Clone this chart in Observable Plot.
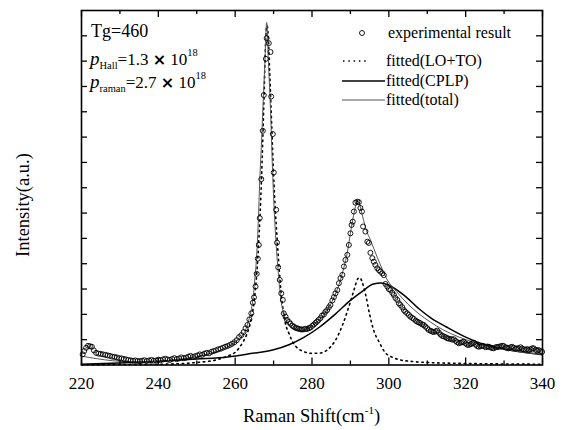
<!DOCTYPE html>
<html>
<head>
<meta charset="utf-8">
<script src="https://cdn.jsdelivr.net/npm/d3@7"></script>
<script src="https://cdn.jsdelivr.net/npm/@observablehq/plot@0.6"></script>
<style>
  html, body { margin: 0; padding: 0; background: #fff; }
  #chart svg { display: block; }
</style>
</head>
<body>
<div id="chart"></div>
<script>
// ---- experimental points (Raman shift cm^-1, intensity a.u.) ----
const expX = [
220.3,220.7,221.2,221.7,222.2,222.7,223.2,223.8,224.4,225.0,225.6,226.2,226.8,227.4,228.0,228.6,229.2,229.8,
230.4,231.0,231.6,232.2,232.8,233.4,234.0,234.6,235.2,235.8,236.4,237.0,237.6,238.2,238.8,239.4,240.0,240.6,
241.2,241.8,242.4,243.0,243.6,244.2,244.8,245.4,246.0,246.6,247.2,247.8,248.4,249.0,249.6,250.2,250.8,251.4,
252.0,252.6,253.2,253.8,254.4,255.0,255.6,256.2,256.8,257.4,258.0,258.6,259.2,259.8,260.4,261.0,261.6,262.2,
262.7,263.2,263.7,264.2,264.6,264.9,265.3,265.6,265.9,266.15,266.4,266.8,267.2,267.45,268.0,268.2,268.75,269.2,
269.37,269.8,270.05,270.67,270.9,271.2,271.6,272.0,272.4,272.65,273.1,273.5,274.0,274.4,274.9,275.3,275.7,276.1,
276.5,277.0,277.4,277.9,278.3,278.75,279.2,279.6,280.1,280.5,280.9,281.3,281.7,282.2,282.6,283.1,283.5,283.95,
284.4,284.8,285.3,285.7,286.1,286.6,287.0,287.4,287.9,288.3,288.7,289.2,289.6,290.0,290.3,290.6,290.9,291.3,
291.8,292.2,292.6,293.0,293.3,293.9,294.4,294.8,295.2,295.7,296.1,296.5,297.0,297.4,297.8,298.3,298.7,299.1,
299.6,300.0,300.4,300.9,301.3,301.7,302.2,302.6,303.0,303.5,303.9,304.3,304.8,305.2,305.6,306.1,306.5,307.0,
307.4,307.8,308.2,308.7,309.1,309.5,310.0,310.4,310.9,311.3,311.7,312.2,312.6,313.0,313.5,313.9,314.3,314.8,
315.2,315.6,316.1,316.5,316.9,317.4,317.8,318.2,318.7,319.1,319.5,320.0,320.4,320.8,321.3,321.7,322.1,322.6,
323.0,323.4,323.9,324.3,324.7,325.2,325.6,326.0,326.5,326.9,327.3,327.8,328.2,328.6,329.1,329.5,329.9,330.4,
330.8,331.2,331.7,332.1,332.5,333.0,333.4,333.8,334.3,334.7,335.1,335.6,336.0,336.4,336.9,337.3,337.7,338.2,
338.6,339.0,339.5,339.9
];
const expY = [
0.42,0.55,0.68,0.76,0.74,0.72,0.58,0.48,0.45,0.44,0.42,0.40,0.38,0.36,0.33,0.32,0.30,0.27,
0.26,0.24,0.22,0.20,0.18,0.17,0.18,0.16,0.15,0.17,0.19,0.16,0.18,0.20,0.17,0.18,0.21,0.19,
0.22,0.25,0.22,0.20,0.24,0.27,0.23,0.26,0.30,0.27,0.29,0.33,0.36,0.32,0.35,0.38,0.42,0.40,
0.45,0.48,0.46,0.52,0.55,0.58,0.62,0.64,0.68,0.72,0.75,0.79,0.84,0.90,0.98,1.10,1.18,1.30,
1.45,1.58,1.80,2.04,2.46,2.67,3.10,3.60,4.20,4.74,5.80,7.34,9.25,10.66,12.09,12.91,12.71,12.36,
10.60,9.12,7.60,6.13,4.83,3.86,3.36,2.83,2.57,2.04,1.91,1.78,1.70,1.63,1.55,1.51,1.47,1.45,
1.43,1.41,1.40,1.41,1.43,1.42,1.46,1.48,1.55,1.60,1.66,1.71,1.78,1.85,1.95,2.00,2.10,2.17,
2.28,2.37,2.55,2.68,2.83,2.96,3.23,3.43,3.56,3.89,4.15,4.35,4.74,5.20,5.53,5.66,6.06,6.41,
6.45,6.43,6.20,6.06,5.47,5.27,4.87,4.82,4.43,4.22,4.08,3.95,3.82,3.75,3.69,3.62,3.55,3.20,
3.10,3.00,2.96,2.85,2.77,2.65,2.57,2.44,2.37,2.28,2.17,2.10,2.04,1.98,1.91,1.86,1.82,1.75,
1.71,1.68,1.65,1.60,1.58,1.52,1.45,1.38,1.35,1.32,1.30,1.33,1.36,1.28,1.20,1.15,1.13,1.10,
1.06,1.04,1.03,1.00,1.02,0.95,0.90,0.86,0.88,0.90,0.92,0.85,0.80,0.79,0.82,0.86,0.88,0.80,
0.75,0.72,0.74,0.76,0.75,0.70,0.73,0.72,0.69,0.67,0.66,0.70,0.71,0.72,0.74,0.76,0.75,0.70,
0.68,0.66,0.70,0.72,0.68,0.64,0.66,0.66,0.70,0.65,0.62,0.60,0.63,0.59,0.62,0.66,0.66,0.60,
0.57,0.59,0.55,0.52
];

// ---- fitted (LO+TO) ----
const ltX = [220,230,240,250,255,258,260,262,263,264,265,266,267,267.5,268,268.3,268.6,269,269.5,270,271,272,273,274,275,276,278,280,282,284,286,288,290,291,292,292.5,293,294,295,296,297.5,299,301,303,306,310,320,330,340];
const ltY = [0.01,0.02,0.03,0.1,0.2,0.35,0.5,0.9,1.2,1.7,2.6,4.5,8.0,10.5,13.0,13.4,13.0,11.5,9.5,7.5,4.8,2.8,1.7,1.25,0.9,0.7,0.52,0.46,0.47,0.6,0.95,1.6,2.5,3.0,3.42,3.45,3.3,2.75,2.0,1.4,0.9,0.5,0.3,0.2,0.14,0.1,0.06,0.04,0.03];

// ---- fitted (CPLP) ----
const cpX = [220,230,240,250,258,264,270,274,278,282,286,290,293,296,298,300,304,308,311,315,320,324,330,335,340];
const cpY = [0.03,0.08,0.15,0.24,0.32,0.45,0.6,0.8,1.1,1.5,2.0,2.55,2.9,3.2,3.24,3.15,2.75,2.2,1.85,1.5,1.1,0.85,0.62,0.5,0.4];

// ---- fitted (total) ----
const totX = [220,224,228,232,236,240,244,248,252,255,258,260,261,262,262.7,263.4,264,264.7,265.1,265.5,265.8,266.1,266.4,266.8,267.2,267.7,268.2,268.7,269.2,269.8,270.2,270.7,271.4,271.8,272.65,273.7,275.7,277.2,278.5,280,281.5,283,284.5,285.5,286.5,287.4,288.3,289.2,290,290.8,291.5,291.9,292.4,293.2,294.2,295.2,297,299.6,302,305,308,310.8,314,318,322,326,330,335,340];
const totY = [0.35,0.25,0.17,0.13,0.12,0.15,0.2,0.28,0.4,0.52,0.72,0.9,1.02,1.18,1.38,1.7,2.04,2.7,3.36,4.1,4.9,6.0,7.3,8.6,10.08,11.8,13.53,11.8,10.08,7.4,6.0,4.68,3.36,2.7,2.04,1.65,1.4,1.36,1.42,1.55,1.72,1.98,2.3,2.6,2.95,3.36,3.85,4.45,5.2,5.9,6.35,6.49,6.35,5.85,5.3,4.94,4.25,3.36,2.9,2.4,2.0,1.7,1.4,1.12,0.9,0.74,0.62,0.5,0.42];

// ---- axis ticks ----
const xMajor = [220,240,260,280,300,320,340];
const xMinor = [230,250,270,290,310,330];
const yTicks = [1,2,3,4,5,6,7,8,9,10,11,12,13];

const legendItems = ["experimental result","fitted(LO+TO)","fitted(CPLP)","fitted(total)"];

const exp = expX.map((x,i)=>({x, y: expY[i]}));
const lt = ltX.map((x,i)=>({x, y: ltY[i]}));
const cp = cpX.map((x,i)=>({x, y: cpY[i]}));
const tot = totX.map((x,i)=>({x, y: totY[i]}));

const FONT = "'Liberation Serif', 'DejaVu Serif', serif";
const W = 564, H = 430, ML = 81, MR = 22, MT = 10, MB = 65.5;
const FW = W - ML - MR, FH = H - MT - MB;

const plot = Plot.plot({
  width: W,
  height: H,
  marginLeft: ML,
  marginRight: MR,
  marginTop: MT,
  marginBottom: MB,
  style: {fontFamily: FONT, fontSize: "17px", color: "#000", background: "#fff"},
  x: {domain: [220, 340]},
  y: {domain: [0, 14], axis: null},
  marks: [
    Plot.line(lt, {x: "x", y: "y", curve: "monotone-x", stroke: "#000", strokeWidth: 1.6, strokeDasharray: "1.5,3.8"}),
    Plot.line(cp, {x: "x", y: "y", curve: "monotone-x", stroke: "#000", strokeWidth: 1.5}),
    Plot.line(tot, {x: "x", y: "y", curve: "monotone-x", stroke: "#555", strokeWidth: 1}),
    Plot.dot(exp, {x: "x", y: "y", r: 2.5, stroke: "#000", strokeWidth: 0.9, fill: "none"}),
    // x tick labels
    Plot.axisX({anchor: "bottom", ticks: xMajor, tickSize: 0, tickPadding: 12, fontSize: 17, label: null}),
    // inward ticks
    Plot.tickX(xMajor, {x: d => d, insetTop: FH - 7, stroke: "#000", strokeWidth: 1.3}),
    Plot.tickX(xMinor, {x: d => d, insetTop: FH - 4, stroke: "#000", strokeWidth: 1.3}),
    Plot.tickX(xMajor, {x: d => d, insetBottom: FH - 7, stroke: "#000", strokeWidth: 1.3}),
    Plot.tickX(xMinor, {x: d => d, insetBottom: FH - 4, stroke: "#000", strokeWidth: 1.3}),
    Plot.tickY(yTicks, {y: d => d, insetRight: FW - 6, stroke: "#000", strokeWidth: 1.3}),
    Plot.tickY(yTicks, {y: d => d, insetLeft: FW - 6, stroke: "#000", strokeWidth: 1.3}),
    Plot.frame({stroke: "#000", strokeWidth: 1.6})
  ]
});

document.getElementById("chart").appendChild(plot);
const svg = d3.select(plot);

// Axis titles
const titles = svg.append("g").attr("font-family", FONT).attr("fill", "#000").attr("text-anchor", "middle").attr("font-size", 18.5);
const xt = titles.append("text").attr("x", ML + FW / 2).attr("y", 422);
xt.append("tspan").text("Raman Shift(cm");
xt.append("tspan").attr("font-size", 11).attr("dy", -8).text("-1");
xt.append("tspan").attr("dy", 8).text(")");
titles.append("text").attr("transform", "translate(29,205) rotate(-90)").text("Intensity(a.u.)");

// Annotations (top-left)
const ann = svg.append("g").attr("font-family", FONT).attr("fill", "#000").attr("text-anchor", "start");
ann.append("text").attr("x", 91).attr("y", 37).attr("font-size", 18).text("Tg=460");
function pLine(y, sub, val) {
  const t = ann.append("text").attr("x", 90).attr("y", y).attr("font-size", 17);
  t.append("tspan").attr("font-style", "italic").attr("font-size", 19).text("p");
  t.append("tspan").attr("font-size", 10.5).attr("dy", 4).text(sub);
  t.append("tspan").attr("dy", -4).text("=" + val + " ");
  t.append("tspan").attr("font-weight", "bold").attr("font-family", "'DejaVu Sans', sans-serif").attr("font-size", 16).text("\u00D7");
  t.append("tspan").text(" 10");
  t.append("tspan").attr("font-size", 10.5).attr("dy", -9).text("18");
}
pLine(65, "Hall", "1.3");
pLine(88, "raman", "2.7");

// Legend (top-right)
const lg = svg.append("g").attr("font-family", FONT).attr("font-size", 16).attr("fill", "#000").attr("text-anchor", "start");
const rows = [33, 61, 81, 100];
lg.append("circle").attr("cx", 362).attr("cy", rows[0]).attr("r", 2.5).attr("fill", "none").attr("stroke", "#000").attr("stroke-width", 0.9);
lg.append("line").attr("x1", 343).attr("x2", 368).attr("y1", rows[1]).attr("y2", rows[1]).attr("stroke", "#000").attr("stroke-width", 1.6).attr("stroke-dasharray", "1.5,3.8");
lg.append("line").attr("x1", 342).attr("x2", 385).attr("y1", rows[2]).attr("y2", rows[2]).attr("stroke", "#000").attr("stroke-width", 1.5);
lg.append("line").attr("x1", 342).attr("x2", 385).attr("y1", rows[3]).attr("y2", rows[3]).attr("stroke", "#555").attr("stroke-width", 1);
legendItems.forEach((s, i) => {
  lg.append("text").attr("x", i === 0 ? 388 : 386).attr("y", rows[i]).attr("dy", "0.33em").text(s);
});
</script>
</body>
</html>
